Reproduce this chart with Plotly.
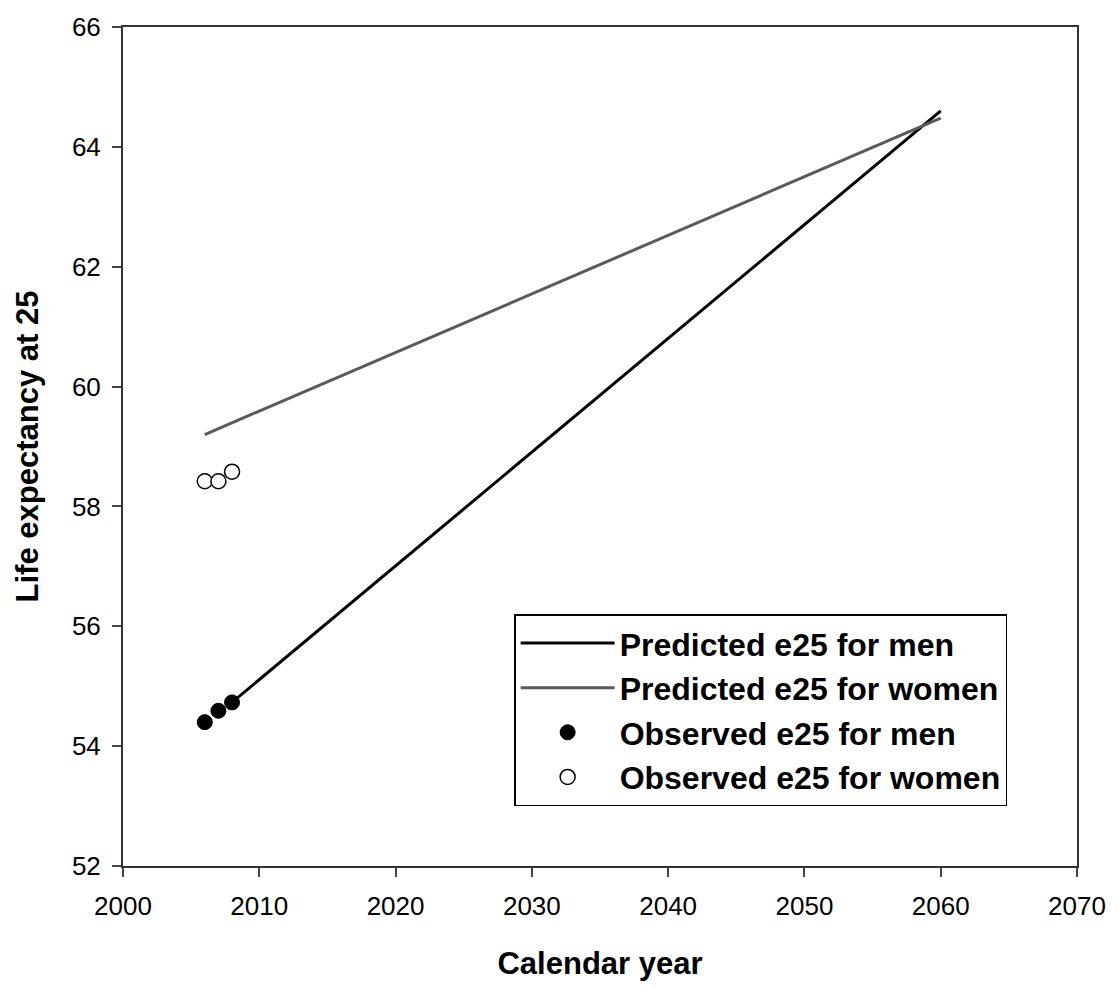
import plotly.graph_objects as go

# Data
pred_years_men = [2008, 2060]
pred_e25_men = [54.73, 64.6]
pred_years_women = [2006, 2060]
pred_e25_women = [59.2, 64.48]
obs_years = [2006, 2007, 2008]
obs_e25_men = [54.4, 54.59, 54.73]
obs_e25_women = [58.42, 58.42, 58.58]

x_ticks = [2000, 2010, 2020, 2030, 2040, 2050, 2060, 2070]
y_ticks = [52, 54, 56, 58, 60, 62, 64, 66]

FONT = "Liberation Sans, Arial, sans-serif"

fig = go.Figure()
fig.add_trace(go.Scatter(x=pred_years_men, y=pred_e25_men, mode="lines",
                         name="Predicted e25 for men",
                         line=dict(color="black", width=3)))
fig.add_trace(go.Scatter(x=pred_years_women, y=pred_e25_women, mode="lines",
                         name="Predicted e25 for women",
                         line=dict(color="#5a5a5a", width=3)))
fig.add_trace(go.Scatter(x=obs_years, y=obs_e25_men, mode="markers",
                         name="Observed e25 for men",
                         marker=dict(color="black", size=15, symbol="circle",
                                     line=dict(color="black", width=1))))
fig.add_trace(go.Scatter(x=obs_years, y=obs_e25_women, mode="markers",
                         name="Observed e25 for women",
                         marker=dict(color="white", size=15, symbol="circle",
                                     line=dict(color="black", width=1.5))))

axis_common = dict(showgrid=False, zeroline=False, showline=True,
                   linecolor="#333333", linewidth=2, mirror=True,
                   ticks="outside", ticklen=9, tickwidth=2, tickcolor="#444444",
                   tickfont=dict(family=FONT, size=26, color="black"))

fig.update_xaxes(range=[2000, 2070], tickvals=x_ticks, ticklabelstandoff=7,
                 title=dict(text="<b>Calendar year</b>", standoff=32,
                            font=dict(family=FONT, size=31, color="black")),
                 **axis_common)
fig.update_yaxes(range=[52, 66], tickvals=y_ticks, ticklabelstandoff=6,
                 title=dict(text="<b>Life expectancy at 25</b>", standoff=24,
                            font=dict(family=FONT, size=31, color="black")),
                 **axis_common)

fig.update_layout(
    width=1118, height=987,
    margin=dict(l=123, r=35, t=24, b=115),
    plot_bgcolor="white", paper_bgcolor="white",
    legend=dict(x=0.41, y=0.30, xanchor="left", yanchor="top",
                bordercolor="black", borderwidth=1.5, bgcolor="white",
                font=dict(family=FONT, size=32, color="black", weight="bold"),
                tracegroupgap=0, itemwidth=94),
    showlegend=True,
)

fig.write_html("out.html")
